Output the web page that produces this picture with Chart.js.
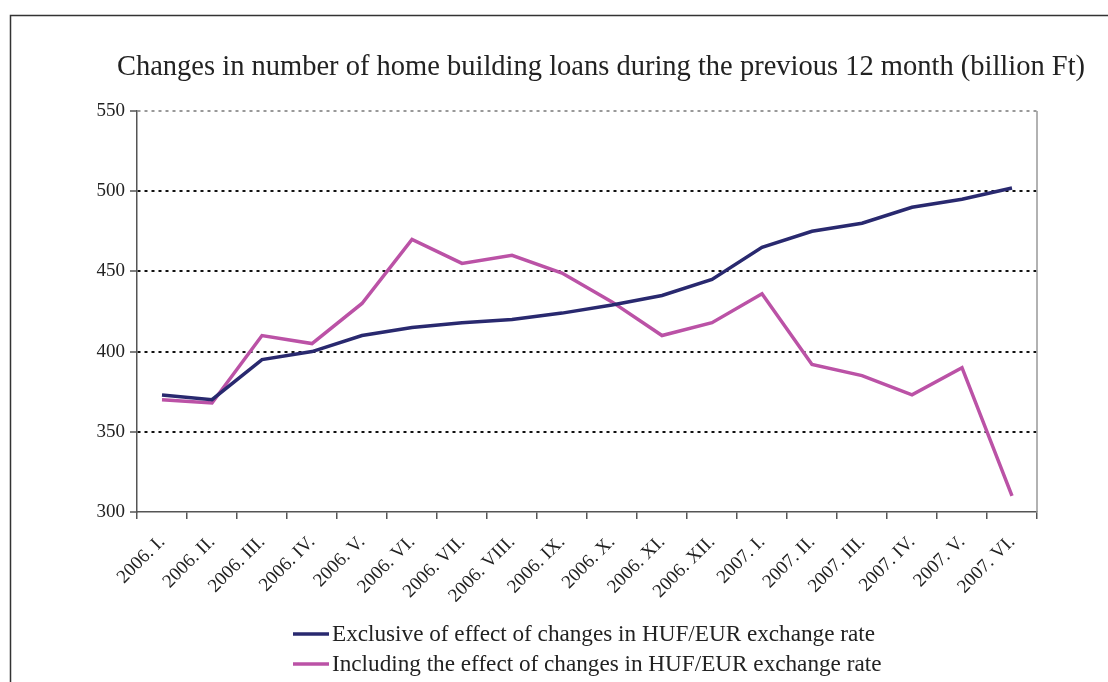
<!DOCTYPE html>
<html>
<head>
<meta charset="utf-8">
<script src="https://cdn.jsdelivr.net/npm/chart.js@4"></script>
<style>
  html, body { margin: 0; padding: 0; background: #fff; }
  #wrap { width: 1108px; height: 682px; position: relative; }
</style>
</head>
<body>
<div id="wrap"><canvas id="myChart" width="1108" height="682"></canvas></div>
<script>
var months = [
    '2006. I.', '2006. II.', '2006. III.', '2006. IV.', '2006. V.', '2006. VI.',
    '2006. VII.', '2006. VIII.', '2006. IX.', '2006. X.', '2006. XI.', '2006. XII.',
    '2007. I.', '2007. II.', '2007. III.', '2007. IV.', '2007. V.', '2007. VI.'
];
var exclusive = [373, 370, 395, 400, 410, 415, 418, 420, 424, 429, 435, 445, 465, 475, 480, 490, 495, 502];
var including = [370, 368, 410, 405, 430, 470, 455, 460, 449, 431, 410, 418, 436, 392, 385, 373, 390, 310];
var yTicks = [300, 350, 400, 450, 500, 550];

var chartTitle = 'Changes in number of home building loans during the previous 12 month (billion Ft)';
var seriesNames = [
    'Exclusive of effect of changes in HUF/EUR exchange rate',
    'Including the effect of changes in HUF/EUR exchange rate'
];

var serif = '"Liberation Serif", "DejaVu Serif", serif';

// frame, title, right border and legend drawn by hand
var decor = {
    id: 'decor',
    beforeDraw: function (chart) {
        var c = chart.ctx;
        c.save();
        c.strokeStyle = '#333';
        c.lineWidth = 1.5;
        c.beginPath();
        c.moveTo(10.5, 682);
        c.lineTo(10.5, 15.5);
        c.lineTo(1108, 15.5);
        c.stroke();
        c.restore();
    },
    afterDraw: function (chart) {
        var c = chart.ctx;
        var a = chart.chartArea;
        c.save();
        // right border of plot
        c.strokeStyle = '#999';
        c.lineWidth = 1.5;
        c.beginPath();
        c.moveTo(a.right, a.top);
        c.lineTo(a.right, a.bottom);
        c.stroke();

        // title
        c.fillStyle = '#222';
        c.font = '28.5px ' + serif;
        c.textAlign = 'center';
        c.textBaseline = 'middle';
        c.fillText(chartTitle, 601, 68);

        // legend
        c.font = '23.2px ' + serif;
        c.textAlign = 'left';
        chart.data.datasets.forEach(function (ds, i) {
            var y = 634 + i * 30;
            c.strokeStyle = ds.borderColor;
            c.lineWidth = 3.5;
            c.beginPath();
            c.moveTo(293, y);
            c.lineTo(329, y);
            c.stroke();
            c.fillStyle = '#222';
            c.fillText(ds.label, 332, y + 1);
        });
        c.restore();
    }
};

var ctx = document.getElementById('myChart').getContext('2d');
var myChart = new Chart(ctx, {
    type: 'line',
    data: {
        labels: months,
        datasets: [{
            label: seriesNames[0],
            data: exclusive,
            borderColor: '#29296f',
            borderWidth: 3.5,
            pointRadius: 0,
            tension: 0
        }, {
            label: seriesNames[1],
            data: including,
            borderColor: '#bb52a6',
            borderWidth: 3.5,
            pointRadius: 0,
            tension: 0
        }]
    },
    options: {
        responsive: false,
        animation: false,
        layout: {
            padding: { top: 111, left: 10, right: 71, bottom: 80 }
        },
        plugins: {
            legend: { display: false },
            title: { display: false },
            tooltip: { enabled: false }
        },
        scales: {
            x: {
                offset: true,
                grid: {
                    offset: true,
                    drawOnChartArea: false,
                    drawTicks: true,
                    tickLength: 7,
                    color: '#555',
                    lineWidth: 1.5
                },
                border: { color: '#555', width: 1.5 },
                ticks: {
                    color: '#222',
                    font: { family: serif, size: 19 },
                    minRotation: 45,
                    maxRotation: 45,
                    autoSkip: false,
                    padding: 12
                },
                afterFit: function (scale) { scale.height = 90; }
            },
            y: {
                min: 300,
                max: 550,
                afterBuildTicks: function (scale) {
                    scale.ticks = yTicks.map(function (v) { return { value: v }; });
                },
                grid: {
                    color: function (c) {
                        if (c.tick && c.tick.value === 550) return '#999';
                        if (c.tick && c.tick.value === 300) return 'rgba(0,0,0,0)';
                        return '#111';
                    },
                    lineWidth: 2,
                    tickLength: 7,
                    tickColor: '#555',
                    tickWidth: 1.5,
                    tickBorderDash: []
                },
                border: { color: '#555', width: 1.5, dash: [3, 4] },
                ticks: {
                    color: '#222',
                    font: { family: serif, size: 19 },
                    padding: 5
                },
                afterFit: function (scale) { scale.width = 127; }
            }
        }
    },
    plugins: [decor]
});
</script>
</body>
</html>
